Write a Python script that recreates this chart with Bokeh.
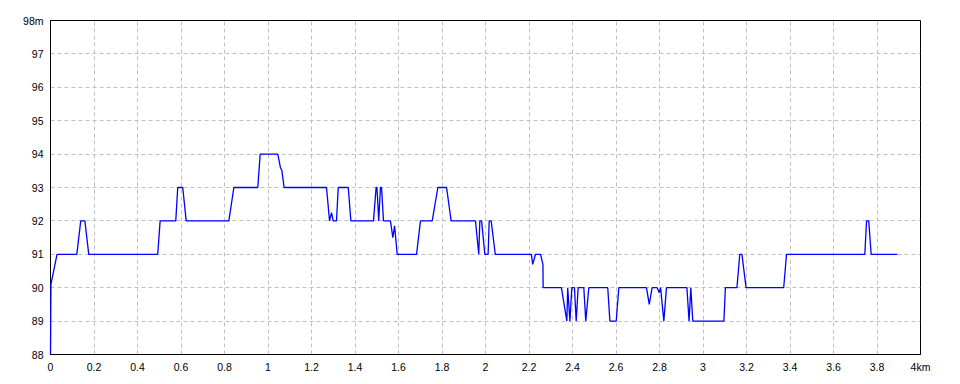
from bokeh.plotting import figure
from bokeh.models import Range1d, FixedTicker
from bokeh.embed import file_html
from bokeh.resources import INLINE

# distance along route (km) and elevation (m)
dist_km = [0.000, 0.002, 0.030, 0.121, 0.139, 0.158, 0.176, 0.493, 0.504, 0.576,
           0.585, 0.608, 0.624, 0.820, 0.843, 0.953, 0.964, 1.045, 1.057, 1.064,
           1.074, 1.269, 1.283, 1.292, 1.300, 1.315, 1.323, 1.369, 1.381, 1.485,
           1.497, 1.501, 1.506, 1.509, 1.517, 1.522, 1.531, 1.563, 1.574, 1.582,
           1.594, 1.683, 1.701, 1.755, 1.781, 1.821, 1.842, 1.954, 1.969, 1.974,
           1.982, 1.997, 2.012, 2.017, 2.026, 2.045, 2.211, 2.217, 2.230, 2.253,
           2.264, 2.265, 2.349, 2.374, 2.378, 2.388, 2.397, 2.409, 2.417, 2.426,
           2.452, 2.461, 2.475, 2.562, 2.572, 2.601, 2.613, 2.740, 2.753, 2.766,
           2.789, 2.799, 2.805, 2.820, 2.832, 2.926, 2.936, 2.944, 2.953, 3.096,
           3.103, 3.156, 3.169, 3.179, 3.198, 3.371, 3.384, 3.744, 3.752, 3.762,
           3.773, 3.893]
elev_m = [88.0, 90.1, 91.0, 91.0, 92.0, 92.0, 91.0, 91.0, 92.0, 92.0,
          93.0, 93.0, 92.0, 92.0, 93.0, 93.0, 94.0, 94.0, 93.6, 93.5,
          93.0, 93.0, 92.0, 92.25, 92.0, 92.0, 93.0, 93.0, 92.0, 92.0,
          93.0, 93.0, 92.4, 92.0, 93.0, 93.0, 92.0, 92.0, 91.5, 91.85,
          91.0, 91.0, 92.0, 92.0, 93.0, 93.0, 92.0, 92.0, 91.0, 92.0,
          92.0, 91.0, 91.0, 92.0, 92.0, 91.0, 91.0, 90.7, 91.0, 91.0,
          90.7, 90.0, 90.0, 89.0, 90.0, 89.0, 90.0, 90.0, 89.0, 90.0,
          90.0, 89.0, 90.0, 90.0, 89.0, 89.0, 90.0, 90.0, 89.5, 90.0,
          90.0, 89.85, 90.0, 89.0, 90.0, 90.0, 89.0, 90.0, 89.0, 89.0,
          90.0, 90.0, 91.0, 91.0, 90.0, 90.0, 91.0, 91.0, 92.0, 92.0,
          91.0, 91.0]

x_ticks = [0, 0.2, 0.4, 0.6, 0.8, 1, 1.2, 1.4, 1.6, 1.8, 2, 2.2, 2.4, 2.6, 2.8,
           3, 3.2, 3.4, 3.6, 3.8, 4]
x_labels = ["0", "0.2", "0.4", "0.6", "0.8", "1", "1.2", "1.4", "1.6", "1.8", "2",
            "2.2", "2.4", "2.6", "2.8", "3", "3.2", "3.4", "3.6", "3.8", "4km"]
y_ticks = [88, 89, 90, 91, 92, 93, 94, 95, 96, 97, 98]
y_labels = ["88", "89", "90", "91", "92", "93", "94", "95", "96", "97", "98m"]

FONT = "Liberation Sans"

p = figure(width=960, height=384, output_backend="svg", toolbar_location=None,
           x_range=Range1d(0, 4), y_range=Range1d(88, 98),
           min_border_left=50, min_border_right=40, min_border_top=20,
           min_border_bottom=30)
p.background_fill_color = "white"
p.border_fill_color = "white"
p.outline_line_color = "black"
p.outline_line_width = 1

for ax, ticks, labels in ((p.xaxis[0], x_ticks, x_labels), (p.yaxis[0], y_ticks, y_labels)):
    ax.ticker = FixedTicker(ticks=ticks)
    ax.major_label_overrides = {t: l for t, l in zip(ticks, labels)}
    ax.major_tick_line_color = None
    ax.minor_tick_line_color = None
    ax.major_tick_out = 0
    ax.major_tick_in = 0
    ax.axis_line_color = "black"
    ax.major_label_text_font = FONT
    ax.major_label_text_font_size = "10.5px"
    ax.major_label_text_color = "black"

p.xaxis[0].major_label_standoff = 6
p.yaxis[0].major_label_standoff = 7

for g in (p.xgrid[0], p.ygrid[0]):
    g.grid_line_color = "#c0c0c0"
    g.grid_line_dash = "4 3"
    g.grid_line_width = 1
p.xgrid[0].ticker = FixedTicker(ticks=x_ticks)
p.ygrid[0].ticker = FixedTicker(ticks=y_ticks)

p.line(dist_km, elev_m, line_color="#0000ff", line_width=1.3, level="overlay")

open("out.html", "w").write(file_html(p, INLINE))
